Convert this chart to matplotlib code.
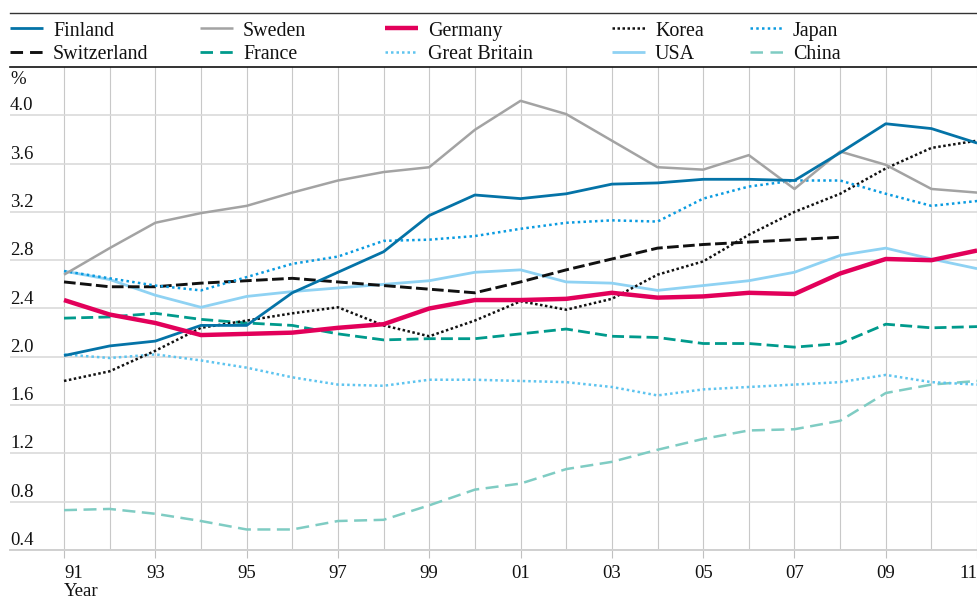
import matplotlib
matplotlib.use('Agg')
import matplotlib.pyplot as plt
from matplotlib.lines import Line2D
from matplotlib.transforms import ScaledTranslation

plt.rcParams['font.family'] = ['Liberation Serif', 'DejaVu Serif']

years = list(range(1991, 2012))
finland = [2.01, 2.09, 2.13, 2.26, 2.26, 2.53, 2.70, 2.87, 3.17, 3.34, 3.31,
           3.35, 3.43, 3.44, 3.47, 3.47, 3.46, 3.69, 3.93, 3.89, 3.77]
sweden = [2.68, 2.90, 3.11, 3.19, 3.25, 3.36, 3.46, 3.53, 3.57, 3.88, 4.12,
          4.01, 3.79, 3.57, 3.55, 3.67, 3.39, 3.70, 3.59, 3.39, 3.36]
germany = [2.47, 2.35, 2.28, 2.18, 2.19, 2.20, 2.24, 2.27, 2.40, 2.47, 2.47,
           2.48, 2.53, 2.49, 2.50, 2.53, 2.52, 2.69, 2.81, 2.80, 2.88]
korea = [1.80, 1.88, 2.05, 2.24, 2.30, 2.36, 2.41, 2.26, 2.17, 2.30, 2.46,
         2.39, 2.48, 2.68, 2.79, 3.01, 3.20, 3.35, 3.56, 3.73, 3.79]
japan = [2.71, 2.65, 2.59, 2.55, 2.66, 2.77, 2.83, 2.96, 2.97, 3.00, 3.06,
         3.11, 3.13, 3.12, 3.31, 3.41, 3.46, 3.46, 3.35, 3.25, 3.29]
switzerland = [2.62, 2.58, 2.58, 2.61, 2.63, 2.65, 2.62, 2.59, 2.56, 2.53, 2.62,
               2.72, 2.81, 2.90, 2.93, 2.95, 2.97, 2.99]
france = [2.32, 2.33, 2.36, 2.31, 2.28, 2.26, 2.19, 2.14, 2.15, 2.15, 2.19,
          2.23, 2.17, 2.16, 2.11, 2.11, 2.08, 2.11, 2.27, 2.24, 2.25]
great_britain = [2.02, 1.99, 2.02, 1.97, 1.91, 1.83, 1.77, 1.76, 1.81, 1.81, 1.80,
                 1.79, 1.75, 1.68, 1.73, 1.75, 1.77, 1.79, 1.85, 1.79, 1.77]
usa = [2.71, 2.64, 2.51, 2.41, 2.50, 2.54, 2.57, 2.60, 2.63, 2.70, 2.72,
       2.62, 2.61, 2.55, 2.59, 2.63, 2.70, 2.84, 2.90, 2.81, 2.73]
china = [0.73, 0.74, 0.70, 0.64, 0.57, 0.57, 0.64, 0.65, 0.77, 0.90, 0.95,
         1.07, 1.13, 1.23, 1.32, 1.39, 1.40, 1.47, 1.70, 1.77, 1.80]

x_tick_years = list(range(1991, 2012, 2))
x_tick_labels = ['91', '93', '95', '97', '99', '01', '03', '05', '07', '09', '11']
y_ticks = [0.4, 0.8, 1.2, 1.6, 2.0, 2.4, 2.8, 3.2, 3.6, 4.0]
y_tick_labels = ['0.4', '0.8', '1.2', '1.6', '2.0', '2.4', '2.8', '3.2', '3.6', '4.0']

# name, values, color, linewidth, dashes in plot, dashes in legend
series = [
    ('China', china, '#7fccc3', 1.8, (5.2, 2.6), (5.0, 3.0)),
    ('Great Britain', great_britain, '#5ec4ef', 1.8, (1, 1.2), (1, 1.2)),
    ('France', france, '#009a8c', 2.0, (4.3, 1.9), (4.5, 2.6)),
    ('USA', usa, '#8fd2f3', 2.0, None, None),
    ('Switzerland', switzerland, '#111111', 2.1, (4.0, 1.5), (4.3, 2.4)),
    ('Korea', korea, '#111111', 1.8, (1, 1.0), (1, 1.0)),
    ('Japan', japan, '#0a9be0', 1.8, (1, 1.3), (1, 1.3)),
    ('Sweden', sweden, '#a3a3a3', 1.8, None, None),
    ('Finland', finland, '#0473a7', 2.0, None, None),
    ('Germany', germany, '#e2005a', 3.2, None, None),
]

W, H = 978, 600
fig = plt.figure(figsize=(W / 100, H / 100), dpi=100)
ax = fig.add_axes([10 / W, 50 / H, 968 / W, (550 - 67) / H])

style = {}
for name, vals, color, lw, dashes, ldashes in series:
    kw = dict(color=color, lw=lw, solid_capstyle='butt', dash_capstyle='butt')
    line, = ax.plot(years[:len(vals)], vals, **kw)
    if dashes is not None:
        line.set_dashes(dashes)
    style[name] = (color, lw, ldashes)

ax.set_xlim(1989.817, 2011.02)
ax.set_ylim(0.4, 4.4)

# grid
ax.set_xticks(years, minor=True)
ax.set_xticks(x_tick_years)
ax.set_xticklabels(x_tick_labels, fontsize=13.5)
ax.set_yticks(y_ticks)
ax.set_yticklabels(y_tick_labels, fontsize=13.5, ha='left', va='baseline')
ax.grid(True, axis='x', which='both', color='#c8c8c8', lw=0.8)
ax.grid(True, axis='y', which='major', color='#dadada', lw=1.2)
ax.set_axisbelow(True)
ax.tick_params(axis='x', which='minor', length=0)
ax.tick_params(axis='x', which='major', length=6, color='#c0c0c0', width=0.8,
               pad=5, labelcolor='#111111')
ax.tick_params(axis='y', length=0, pad=0, labelcolor='#111111')

off = ScaledTranslation(0, 5 / 100, fig.dpi_scale_trans)
for lab in ax.get_yticklabels():
    lab.set_transform(lab.get_transform() + off)
    lab.set_ha('left')
    lab.set_va('baseline')

xl = ax.get_xticklabels()
xl[0].set_ha('left')
xl[-1].set_ha('right')

for s in ['left', 'right']:
    ax.spines[s].set_visible(False)
ax.spines['top'].set_color('#111111')
ax.spines['top'].set_linewidth(1.2)
ax.spines['bottom'].set_color('#d0d0d0')
ax.spines['bottom'].set_linewidth(1.4)

fig.text(10 / W, (600 - 84) / H, '%', fontsize=13.5, ha='left', va='baseline',
         color='#111111')
fig.text(64 / W, (600 - 596) / H, 'Year', fontsize=13.5, ha='left', va='baseline',
         color='#111111')

# legend (manual layout)
fig.add_artist(Line2D([10 / W, 1.0], [(600 - 13) / H] * 2, color='#333333',
                      lw=1.0, transform=fig.transFigure))
legend_layout = [
    ('Finland', 10, 0), ('Switzerland', 10, 1),
    ('Sweden', 200, 0), ('France', 200, 1),
    ('Germany', 385, 0), ('Great Britain', 385, 1),
    ('Korea', 612, 0), ('USA', 612, 1),
    ('Japan', 750, 0), ('China', 750, 1),
]
line_y = [28, 52]
text_y = [36, 59]
for name, x0, row in legend_layout:
    color, lw, dashes = style[name]
    ln = Line2D([x0 / W, (x0 + 33) / W], [(600 - line_y[row]) / H] * 2,
                color=color, lw=lw, transform=fig.transFigure,
                solid_capstyle='butt', dash_capstyle='butt')
    if dashes is not None:
        ln.set_dashes(dashes)
    fig.add_artist(ln)
    fig.text((x0 + 43) / W, (600 - text_y[row]) / H, name, fontsize=14.4,
             ha='left', va='baseline', color='#111111')

fig.savefig('out.png', dpi=100)
